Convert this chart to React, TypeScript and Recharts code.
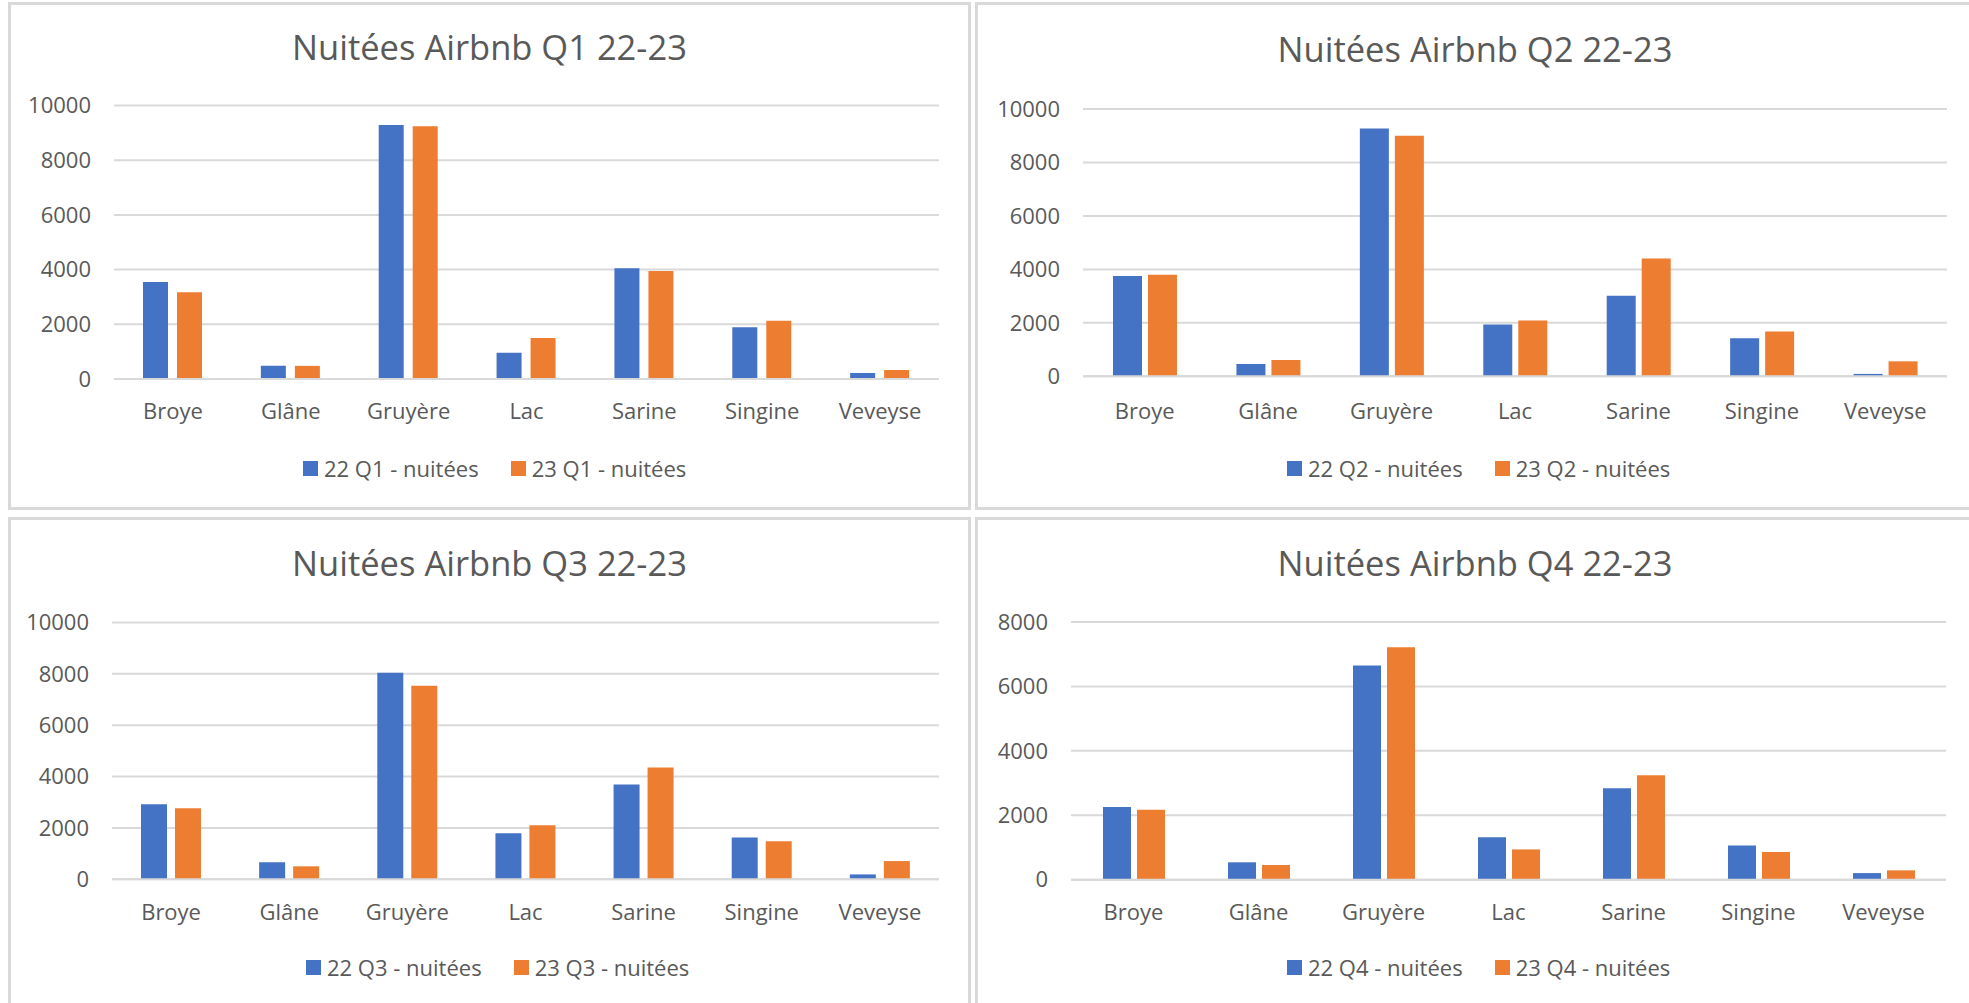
import React from "react";
import { BarChart, Bar, XAxis, YAxis, CartesianGrid } from "recharts";

const categories = ["Broye", "Glâne", "Gruyère", "Lac", "Sarine", "Singine", "Veveyse"];

const q1y22 = [3550, 480, 9290, 960, 4050, 1890, 220];
const q1y23 = [3170, 480, 9240, 1500, 3950, 2130, 330];
const q2y22 = [3750, 460, 9270, 1940, 3010, 1420, 90];
const q2y23 = [3800, 610, 9000, 2090, 4410, 1680, 560];
const q3y22 = [2920, 660, 8040, 1790, 3690, 1630, 190];
const q3y23 = [2770, 505, 7540, 2100, 4350, 1480, 710];
const q4y22 = [2260, 540, 6650, 1315, 2835, 1065, 205];
const q4y23 = [2170, 455, 7215, 940, 3240, 860, 290];

const ticks10k = [0, 2000, 4000, 6000, 8000, 10000];
const ticks8k = [0, 2000, 4000, 6000, 8000];

const BLUE = "#4472C4";
const ORANGE = "#ED7D31";
const TEXT = "#595959";
const GRID = "#D9D9D9";
const FONT = "'Open Sans', sans-serif";

type Geo = {
  box: { x: number; y: number; w: number; h: number };
  plot: { l: number; r: number; t: number; b: number };
  titleBase: number;
  catTop: number;
  legendY: number;
  legendX: number;
  barSize: number;
  barGap: number;
};

function Panel({
  quarter,
  a,
  b,
  ticks,
  geo,
}: {
  quarter: string;
  a: number[];
  b: number[];
  ticks: number[];
  geo: Geo;
}) {
  const nameA = `22 ${quarter} - nuitées`;
  const nameB = `23 ${quarter} - nuitées`;
  const data = categories.map((c, i) => ({ name: c, a: a[i], b: b[i] }));
  const { box, plot } = geo;
  const xAxisH = 60;
  const chartW = plot.r - box.x;
  const chartH = plot.b - box.y + xAxisH;

  return (
    <>
      <div
        style={{
          position: "absolute",
          left: box.x,
          top: box.y,
          width: box.w,
          height: box.h,
          border: `3px solid ${GRID}`,
          boxSizing: "border-box",
        }}
      />
      <div
        style={{
          position: "absolute",
          left: box.x,
          width: box.w,
          top: geo.titleBase - 30.6,
          textAlign: "center",
          fontFamily: FONT,
          fontSize: 34.5,
          lineHeight: "34.5px",
          color: TEXT,
          whiteSpace: "nowrap",
        }}
      >
        Nuitées Airbnb {quarter} 22-23
      </div>
      <div style={{ position: "absolute", left: box.x, top: box.y }}>
        <BarChart
          width={chartW}
          height={chartH}
          data={data}
          margin={{ top: plot.t - box.y, right: 0, left: 0, bottom: 0 }}
          barSize={geo.barSize}
          barGap={geo.barGap}
        >
          <CartesianGrid vertical={false} stroke={GRID} strokeWidth={2} />
          <XAxis
            dataKey="name"
            height={xAxisH}
            interval={0}
            tickLine={false}
            tickSize={0}
            tickMargin={geo.catTop - plot.b}
            axisLine={{ stroke: GRID, strokeWidth: 2 }}
            tick={{ fill: TEXT, fontSize: 22, fontFamily: FONT }}
          />
          <YAxis
            type="number"
            width={plot.l - box.x}
            domain={[0, ticks[ticks.length - 1]]}
            ticks={ticks}
            interval={0}
            axisLine={false}
            tickLine={false}
            tickSize={0}
            tickMargin={23}
            tick={{ fill: TEXT, fontSize: 22, fontFamily: FONT }}
          />
          <Bar dataKey="a" name={nameA} fill={BLUE} isAnimationActive={false} />
          <Bar dataKey="b" name={nameB} fill={ORANGE} isAnimationActive={false} />
        </BarChart>
      </div>
      <div
        style={{
          position: "absolute",
          left: geo.legendX,
          top: geo.legendY - 15,
          height: 30,
          display: "flex",
          alignItems: "center",
          fontFamily: FONT,
          fontSize: 22,
          color: TEXT,
          whiteSpace: "nowrap",
        }}
      >
        <span style={{ width: 15, height: 15, background: BLUE, marginRight: 6 }} />
        <span style={{ marginRight: 32 }}>{nameA}</span>
        <span style={{ width: 15, height: 15, background: ORANGE, marginRight: 6 }} />
        <span>{nameB}</span>
      </div>
    </>
  );
}

const geo1: Geo = {
  box: { x: 8, y: 2, w: 963, h: 508 },
  plot: { l: 114, r: 939, t: 105.5, b: 379 },
  titleBase: 61,
  catTop: 403,
  legendY: 468,
  legendX: 303,
  barSize: 25,
  barGap: 9,
};
const geo2: Geo = {
  box: { x: 975, y: 2, w: 1000, h: 508 },
  plot: { l: 1083, r: 1947, t: 109, b: 376.3 },
  titleBase: 62.5,
  catTop: 403,
  legendY: 468,
  legendX: 1287,
  barSize: 29,
  barGap: 6,
};
const geo3: Geo = {
  box: { x: 8, y: 517, w: 963, h: 500 },
  plot: { l: 112, r: 939, t: 622.5, b: 879.3 },
  titleBase: 576.5,
  catTop: 904,
  legendY: 967,
  legendX: 306,
  barSize: 26,
  barGap: 8,
};
const geo4: Geo = {
  box: { x: 975, y: 517, w: 1000, h: 500 },
  plot: { l: 1071, r: 1946, t: 622, b: 879.7 },
  titleBase: 576.5,
  catTop: 904,
  legendY: 967,
  legendX: 1287,
  barSize: 28,
  barGap: 6,
};

export default function App() {
  return (
    <div
      style={{
        position: "fixed",
        left: 0,
        top: 0,
        width: 1969,
        height: 1003,
        overflow: "hidden",
        background: "#fff",
      }}
    >
      <Panel quarter="Q1" a={q1y22} b={q1y23} ticks={ticks10k} geo={geo1} />
      <Panel quarter="Q2" a={q2y22} b={q2y23} ticks={ticks10k} geo={geo2} />
      <Panel quarter="Q3" a={q3y22} b={q3y23} ticks={ticks10k} geo={geo3} />
      <Panel quarter="Q4" a={q4y22} b={q4y23} ticks={ticks8k} geo={geo4} />
    </div>
  );
}
